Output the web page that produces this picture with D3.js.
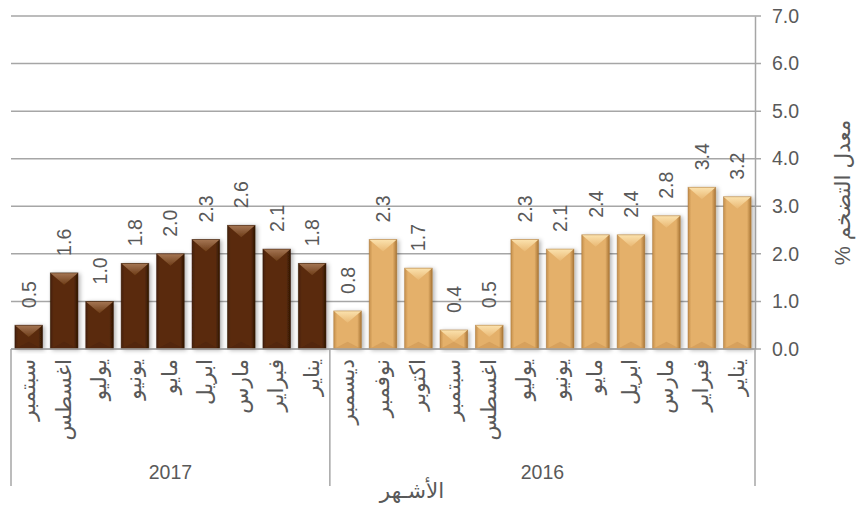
<!DOCTYPE html>
<html>
<head>
<meta charset="utf-8">
<script src="https://cdn.jsdelivr.net/npm/d3@7"></script>
<style>
  body { margin: 0; background: #fff; }
  svg text { font-family: "Liberation Sans", Arial, "DejaVu Sans", sans-serif; fill: #595959; }
</style>
</head>
<body>
<div id="chart"></div>
<script>
// data (chronological order, the axis runs right to left)
const months2016 = ['يناير', 'فبراير', 'مارس', 'ابريل', 'مايو', 'يونيو', 'يوليو', 'اغسطس', 'سبتمبر', 'اكتوبر', 'نوفمبر', 'ديسمبر'];
const values2016 = [3.2, 3.4, 2.8, 2.4, 2.4, 2.1, 2.3, 0.5, 0.4, 1.7, 2.3, 0.8];
const months2017 = ['يناير', 'فبراير', 'مارس', 'ابريل', 'مايو', 'يونيو', 'يوليو', 'اغسطس', 'سبتمبر'];
const values2017 = [1.8, 2.1, 2.6, 2.3, 2.0, 1.8, 1.0, 1.6, 0.5];
const years = ['2016', '2017'];
const yTicks = [0, 1, 2, 3, 4, 5, 6, 7];
const yTitle = 'معدل التضخم %';
const xTitle = 'الأشـهر';

const widthSvg = 858;
const heightSvg = 506;
const margin = { top: 16, right: 103, bottom: 157, left: 11 };
const plotRight = widthSvg - margin.right;
const plotBottom = heightSvg - margin.bottom;

const rows = [];
months2016.forEach((m, i) => rows.push({ key: '2016-' + i, month: m, year: '2016', value: values2016[i] }));
months2017.forEach((m, i) => rows.push({ key: '2017-' + i, month: m, year: '2017', value: values2017[i] }));

const scaleX = d3.scaleBand()
  .domain(rows.map(d => d.key))
  .range([plotRight, margin.left])
  .paddingInner(0.22)
  .paddingOuter(0.11);

const scaleY = d3.scaleLinear()
  .domain([0, 7])
  .range([plotBottom, margin.top]);

const svg = d3.select('#chart').append('svg')
  .attr('width', widthSvg)
  .attr('height', heightSvg);

const defs = svg.append('defs');

const palettes = {
  '2016': { edgeL: '#c48f4c', mid: '#e4b06a', edgeR: '#a87536', topA: '#fbe2ae', topB: '#e9b873', bottom: '#c99250' },
  '2017': { edgeL: '#44200a', mid: '#5a2b0b', edgeR: '#2e1402', topA: '#a57654', topB: '#6e3d19', bottom: '#4a2407' }
};

Object.keys(palettes).forEach(y => {
  const p = palettes[y];
  const body = defs.append('linearGradient').attr('id', 'body' + y)
    .attr('x1', 0).attr('x2', 1).attr('y1', 0).attr('y2', 0);
  body.append('stop').attr('offset', '0%').attr('stop-color', p.edgeL);
  body.append('stop').attr('offset', '12%').attr('stop-color', p.mid);
  body.append('stop').attr('offset', '85%').attr('stop-color', p.mid);
  body.append('stop').attr('offset', '100%').attr('stop-color', p.edgeR);
  const top = defs.append('linearGradient').attr('id', 'top' + y)
    .attr('x1', 0).attr('x2', 0).attr('y1', 0).attr('y2', 1);
  top.append('stop').attr('offset', '0%').attr('stop-color', p.topA);
  top.append('stop').attr('offset', '100%').attr('stop-color', p.topB);
});

const shadow = defs.append('filter').attr('id', 'shadow')
  .attr('x', '-20%').attr('y', '-20%').attr('width', '150%').attr('height', '140%');
shadow.append('feDropShadow')
  .attr('dx', 2).attr('dy', 1).attr('stdDeviation', 2)
  .attr('flood-color', '#000').attr('flood-opacity', 0.3);

// gridlines + right axis
const axisY = d3.axisRight(scaleY)
  .tickValues(yTicks)
  .tickSize(0)
  .tickFormat(d3.format('.1f'));

const grid = svg.append('g');
grid.selectAll('line')
  .data(yTicks)
  .join('line')
  .attr('x1', margin.left)
  .attr('x2', plotRight + 6)
  .attr('y1', d => scaleY(d))
  .attr('y2', d => scaleY(d))
  .attr('stroke', '#a6a6a6')
  .attr('stroke-width', 1.5);

const groupAxisY = svg.append('g')
  .attr('transform', `translate(${plotRight}, 0)`)
  .call(axisY);
groupAxisY.select('.domain').attr('stroke', '#a6a6a6').attr('stroke-width', 1.5);
groupAxisY.selectAll('text')
  .attr('x', 17)
  .attr('font-size', 19.5)
  .attr('fill', '#595959');

// bars
const bars = svg.append('g');
rows.forEach(d => {
  const p = palettes[d.year];
  const x0 = scaleX(d.key);
  const w = scaleX.bandwidth();
  const yT = scaleY(d.value);
  const h = plotBottom - yT;
  const bev = Math.min(w * 0.43, h);
  const g = bars.append('g').attr('filter', 'url(#shadow)');
  g.append('rect')
    .attr('x', x0).attr('y', yT).attr('width', w).attr('height', h)
    .attr('fill', `url(#body${d.year})`);
  g.append('polygon')
    .attr('points', [[x0 + w / 2, plotBottom - bev * 0.6], [x0, plotBottom], [x0 + w, plotBottom]].join(' '))
    .attr('fill', p.bottom).attr('opacity', 0.5);
  g.append('polygon')
    .attr('points', [[x0, yT], [x0 + w, yT], [x0 + w / 2, yT + bev]].join(' '))
    .attr('fill', `url(#top${d.year})`);
  g.append('rect')
    .attr('x', x0).attr('y', yT).attr('width', w).attr('height', h)
    .attr('fill', 'none').attr('stroke', p.edgeR).attr('stroke-width', 0.8).attr('stroke-opacity', 0.6);
});

// data labels
svg.append('g').selectAll('text')
  .data(rows)
  .join('text')
  .attr('transform', d => `translate(${scaleX(d.key) + scaleX.bandwidth() / 2}, ${scaleY(d.value) - 17}) rotate(-90)`)
  .attr('dy', '0.36em')
  .attr('font-size', 19.5)
  .attr('text-anchor', 'start')
  .text(d => d.value.toFixed(1));

// category axis
const axisG = svg.append('g');
axisG.append('line')
  .attr('x1', margin.left).attr('x2', plotRight)
  .attr('y1', plotBottom).attr('y2', plotBottom)
  .attr('stroke', '#a6a6a6').attr('stroke-width', 1.5);

const groupEdges = [plotRight, scaleX('2017-0') + scaleX.bandwidth() + scaleX.step() * scaleX.paddingInner() / 2, margin.left];
axisG.selectAll('.sep')
  .data(groupEdges)
  .join('line')
  .attr('class', 'sep')
  .attr('x1', d => d).attr('x2', d => d)
  .attr('y1', plotBottom).attr('y2', plotBottom + 137)
  .attr('stroke', '#a6a6a6').attr('stroke-width', 1.5);

axisG.selectAll('.cat')
  .data(rows)
  .join('text')
  .attr('class', 'cat')
  .attr('transform', d => `translate(${scaleX(d.key) + scaleX.bandwidth() / 2}, ${plotBottom + 10}) rotate(-90)`)
  .attr('dy', '0.3em')
  .attr('direction', 'rtl')
  .attr('text-anchor', 'start')
  .attr('font-size', 21.5)
  .text(d => d.month);

axisG.selectAll('.year')
  .data(years)
  .join('text')
  .attr('class', 'year')
  .attr('x', (y, i) => (groupEdges[i] + groupEdges[i + 1]) / 2)
  .attr('y', plotBottom + 130)
  .attr('text-anchor', 'middle')
  .attr('font-size', 19.5)
  .text(y => y);

// titles
svg.append('text')
  .attr('transform', `translate(850, ${(margin.top + plotBottom) / 2 + 10}) rotate(-90)`)
  .attr('direction', 'rtl')
  .attr('text-anchor', 'middle')
  .attr('font-size', 21.5)
  .text(yTitle);

svg.append('text')
  .attr('x', 412)
  .attr('y', 498)
  .attr('direction', 'rtl')
  .attr('text-anchor', 'middle')
  .attr('font-size', 21.5)
  .text(xTitle);
</script>
</body>
</html>
